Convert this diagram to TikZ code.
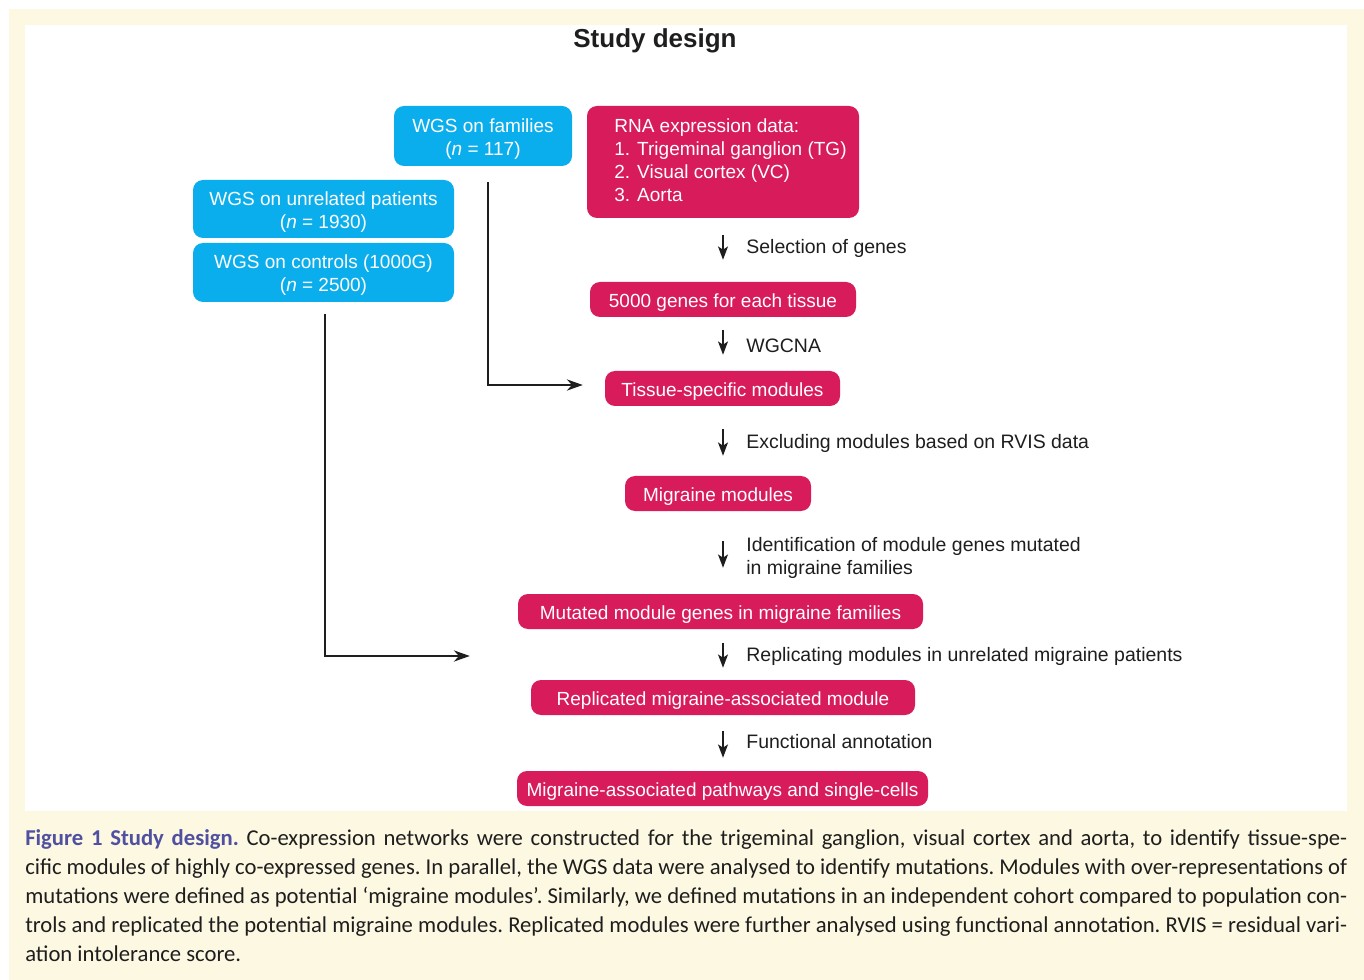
\documentclass[tikz,border=0pt]{standalone}
\usepackage{fontspec}
\setmainfont{Liberation Sans}
\newfontfamily\capfont{Carlito}
\usetikzlibrary{arrows.meta,calc}
\definecolor{cream}{HTML}{FDF8E2}
\definecolor{wgsblue}{HTML}{0AAEEC}
\definecolor{rnared}{HTML}{D81B5B}
\definecolor{figblue}{HTML}{5050A0}
\definecolor{ink}{HTML}{1E1E1E}
\tikzset{
  box/.style = {
    rounded corners=7.5pt, text=white, inner sep=0pt, align=center,
    font=\fontsize{14.25}{17.25}\selectfont,
    execute at begin node=\rule{0pt}{15pt}
  },
  bluebox/.style = {box, fill=wgsblue, text height=32pt},
  redbox/.style = {box, fill=rnared, minimum height=26.25pt},
  flow/.style = {-{Stealth[length=10pt,width=7.5pt,inset=2.5pt]}, line width=1.1pt, draw=ink},
  steplabel/.style = {
    right, xshift=17pt, inner sep=0pt, align=left, text=ink,
    font=\fontsize{14.6}{17.25}\selectfont,
    execute at begin node=\rule{0pt}{15pt}
  },
  feed/.style = {-{Stealth[length=12pt,width=8.5pt,inset=4pt]}, line width=1.1pt, draw=ink}
}

\begin{document}
\begin{tikzpicture}[x=0.75pt,y=-0.75pt]
  \useasboundingbox (0,0) rectangle (1364,980);
  % panel
  \fill[cream] (9,9) rectangle (1364,980);
  \fill[white] (25,25) rectangle (1347,811);
  \node[font=\fontsize{19.5}{22}\selectfont\bfseries, text=ink] (title) at (655,41) {Study design};
  % wgs boxes
  \node[bluebox, minimum width=133.5pt, minimum height=45pt] (fam) at (483,136)
    {WGS on families\\(\textit{n} = 117)};
  \node[bluebox, minimum width=195.75pt, minimum height=43.5pt] (unrel) at (323.5,209)
    {WGS on unrelated patients\\(\textit{n} = 1930)};
  \node[bluebox, minimum width=195.75pt, minimum height=44.25pt] (ctrl) at (323.5,272.5)
    {WGS on controls (1000G)\\(\textit{n} = 2500)};
  % expression boxes
  \node[box, fill=rnared, minimum width=204pt, minimum height=84pt] (rna) at (723,162)
    {\begin{tabular}{@{\hspace{11.25pt}}l@{}}
      RNA expression data:\\
      1. Trigeminal ganglion (TG)\\
      2. Visual cortex (VC)\\
      3. Aorta
    \end{tabular}};
  \node[redbox, minimum width=199.5pt] (genes) at (723,299.5) {5000 genes for each tissue};
  \node[redbox, minimum width=176.25pt] (tissue) at (722.5,388.5) {Tissue-specific modules};
  \node[redbox, minimum width=139.5pt] (migr) at (718,493.5) {Migraine modules};
  \node[redbox, minimum width=303.75pt] (mut) at (720.5,611.5) {Mutated module genes in migraine families};
  \node[redbox, minimum width=288pt] (repl) at (723,697.5) {Replicated migraine-associated module};
  \node[redbox, minimum width=308.25pt] (path) at (722.5,788.5) {Migraine-associated pathways and single-cells};
  % steps
  \coordinate (axis) at (723,0);
  \draw[flow, shorten <=12.75pt, shorten >=16.5pt] (rna.south -| axis) --
    node[steplabel, yshift=3pt] {Selection of genes} (genes.north -| axis);
  \draw[flow, shorten <=9.75pt, shorten >=12pt] (genes.south -| axis) --
    node[steplabel, yshift=0.75pt] {WGCNA} (tissue.north -| axis);
  \draw[flow, shorten <=17.25pt, shorten >=15pt] (tissue.south -| axis) --
    node[steplabel] {Excluding modules based on RVIS data} (migr.north -| axis);
  \draw[flow, shorten <=22.5pt, shorten >=19.5pt] (migr.south -| axis) --
    node[steplabel, yshift=-3.75pt] {Identification of module genes mutated\\in migraine families} (mut.north -| axis);
  \draw[flow, shorten <=10.5pt, shorten >=9pt] (mut.south -| axis) --
    node[steplabel, yshift=0.75pt] {Replicating modules in unrelated migraine patients} (repl.north -| axis);
  \draw[flow, shorten <=12pt, shorten >=9.75pt] (repl.south -| axis) --
    node[steplabel, yshift=3pt] {Functional annotation} (path.north -| axis);
  % feeds
  \coordinate (famtail) at ($(fam.south)+(5,16)$);
  \coordinate (tisshead) at ($(tissue.west)+(-22,-3.5)$);
  \draw[feed] (famtail) |- (tisshead);
  \coordinate (ctrltail) at ($(ctrl.south)+(1.5,12)$);
  \coordinate (replhead) at ($(repl.west)+(-61,-41.5)$);
  \draw[feed] (ctrltail) |- (replhead);
  % caption
  \node[anchor=north west, inner sep=0pt, text width=991.5pt, align=justify,
    font=\capfont\fontsize{17}{21.75}\selectfont\frenchspacing, text=ink] (caption) at (25,829.5)
    {{\bfseries\color{figblue}Figure 1 Study design.} Co-expression networks were constructed for the trigeminal ganglion, visual cortex and aorta, to identify tissue-spe-\linebreak
    cific modules of highly co-expressed genes. In parallel, the WGS data were analysed to identify mutations. Modules with over-representations of\linebreak
    mutations were defined as potential ‘migraine modules’. Similarly, we defined mutations in an independent cohort compared to population con-\linebreak
    trols and replicated the potential migraine modules. Replicated modules were further analysed using functional annotation. RVIS = residual vari-\linebreak
    ation intolerance score.};
\end{tikzpicture}
\end{document}
